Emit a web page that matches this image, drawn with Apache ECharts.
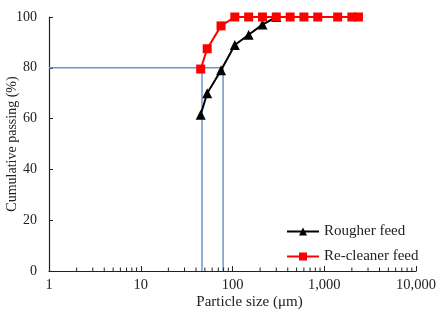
<!DOCTYPE html>
<html>
<head>
<meta charset="utf-8">
<script src="https://cdn.jsdelivr.net/npm/echarts@6/dist/echarts.min.js"></script>
<style>
  html, body { margin: 0; padding: 0; background: #fff; }
  #chart { width: 443px; height: 320px; }
</style>
</head>
<body>
<div id="chart"></div>
<script>
// sieve sizes (um) and cumulative passing (%)
const roughSizes = [45, 53, 75, 106, 150, 212, 300];
const rougher = [61.5, 70, 79, 89, 93, 97, 100];
const cleanSizes = [45, 53, 75, 106, 150, 212, 300, 425, 600, 850, 1400, 2000, 2360];
const recleaner = [79.5, 87.5, 96.5, 100, 100, 100, 100, 100, 100, 100, 100, 100, 100];
// P80 guide lines
const p80Rougher = 79;
const p80Cleaner = 46.5;

const font = '"Liberation Serif", "Times New Roman", serif';

// minor tick values of the log axis (2..9 per decade)
const minorVals = [];
[1, 10, 100, 1000].forEach(d => {
  for (let k = 2; k <= 9; k++) minorVals.push([d * k, 0]);
});

const chart = echarts.init(document.getElementById('chart'));
chart.setOption({
  animation: false,
  grid: { left: 49, right: 27, top: 17, bottom: 49, outerBoundsMode: 'none' },
  xAxis: {
    type: 'log',
    logBase: 10,
    min: 1,
    max: 10000,
    name: 'Particle size (\u03bcm)',
    nameLocation: 'middle',
    nameGap: 24,
    nameMoveOverlap: false,
    nameTextStyle: { fontFamily: font, fontSize: 15, color: '#222', padding: [0, 0, 0, 34] },
    axisLine: { lineStyle: { color: '#222', width: 1.2 } },
    axisTick: { inside: true, length: 5, lineStyle: { color: '#222' } },
    axisLabel: {
      fontFamily: font, fontSize: 14.5, color: '#222', margin: 7,
      formatter: v => Number(v).toLocaleString('en-US')
    },
    splitLine: { show: false }
  },
  yAxis: {
    type: 'value',
    min: 0,
    max: 100,
    interval: 20,
    name: 'Cumulative passing (%)',
    nameLocation: 'middle',
    nameGap: 30,
    nameMoveOverlap: false,
    nameTextStyle: { fontFamily: font, fontSize: 14, color: '#222' },
    axisLine: { show: true, lineStyle: { color: '#222', width: 1.2 } },
    axisTick: { show: true, inside: true, length: 4, lineStyle: { color: '#222' } },
    axisLabel: { fontFamily: font, fontSize: 14, color: '#222', margin: 12 },
    splitLine: { show: false }
  },
  legend: {
    left: 281,
    top: 219,
    orient: 'vertical',
    itemGap: 10,
    itemWidth: 32,
    itemHeight: 10,
    textStyle: { fontFamily: font, fontSize: 15, color: '#222' },
    data: ['Rougher feed', 'Re-cleaner feed']
  },
  series: [
    {
      name: 'guide',
      type: 'line',
      data: [[1, 80], [p80Rougher, 80], [p80Rougher, 0]],
      symbol: 'none',
      lineStyle: { color: '#6e96c8', width: 1.5 },
      z: 1
    },
    {
      name: 'guide2',
      type: 'line',
      data: [[p80Cleaner, 80], [p80Cleaner, 0]],
      symbol: 'none',
      lineStyle: { color: '#6e96c8', width: 1.5 },
      z: 1
    },
    {
      name: 'Rougher feed',
      type: 'line',
      data: roughSizes.map((s, i) => [s, rougher[i]]),
      symbol: 'triangle',
      symbolSize: 10,
      itemStyle: { color: '#000' },
      lineStyle: { color: '#000', width: 2 },
      z: 3
    },
    {
      name: 'Re-cleaner feed',
      type: 'line',
      data: cleanSizes.map((s, i) => [s, recleaner[i]]),
      symbol: 'rect',
      symbolSize: 9,
      itemStyle: { color: '#ff0000' },
      lineStyle: { color: '#ff0000', width: 2 },
      z: 4
    },
    {
      name: 'minor',
      type: 'custom',
      silent: true,
      data: minorVals,
      renderItem: (params, api) => {
        const p = api.coord([api.value(0), 0]);
        return {
          type: 'line',
          shape: { x1: p[0], y1: p[1], x2: p[0], y2: p[1] - 3.5 },
          style: { stroke: '#222', lineWidth: 1 }
        };
      },
      z: 2
    }
  ]
});
</script>
</body>
</html>
